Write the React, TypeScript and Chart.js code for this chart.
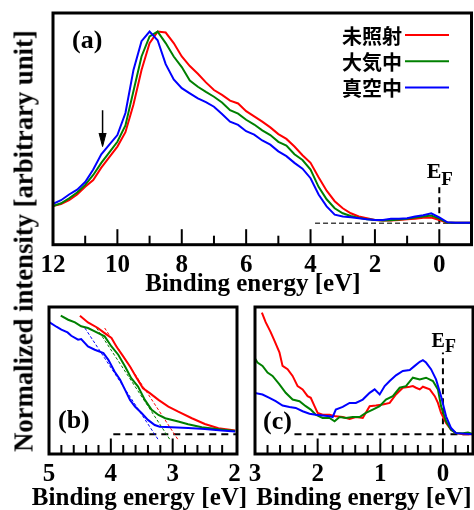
import React, { useEffect, useRef } from 'react';
import { Chart, registerables } from 'chart.js';

Chart.register(...registerables);

// ---------------- series names / colours ----------------
const seriesNames = ['未照射', '大気中', '真空中'];
const seriesColors = ['#ff0000', '#008000', '#0000ff'];
const xTitle = 'Binding energy [eV]';

// ---------------- panel (a): full valence band ----------------
const aEnergy = [12, 11.75, 11.5, 11.25, 11, 10.75, 10.5, 10.25, 10, 9.75, 9.5, 9.25, 9, 8.75, 8.5, 8.25, 8, 7.75, 7.5, 7.25, 7, 6.75, 6.5, 6.25, 6, 5.75, 5.5, 5.25, 5, 4.75, 4.5, 4.25, 4, 3.75, 3.5, 3.25, 3, 2.75, 2.5, 2.25, 2, 1.75, 1.5, 1.25, 1, 0.75, 0.5, 0.25, 0, -0.25, -0.5, -0.75, -1];
const aRed = [0.090, 0.100, 0.120, 0.150, 0.190, 0.225, 0.290, 0.345, 0.400, 0.475, 0.620, 0.800, 0.940, 1.000, 0.995, 0.940, 0.870, 0.820, 0.780, 0.735, 0.695, 0.670, 0.640, 0.625, 0.585, 0.558, 0.530, 0.500, 0.465, 0.440, 0.400, 0.355, 0.315, 0.240, 0.170, 0.115, 0.078, 0.052, 0.035, 0.026, 0.017, 0.014, 0.014, 0.017, 0.021, 0.024, 0.028, 0.030, 0.017, 0.003, 0.003, 0.003, 0.003];
const aGreen = [0.090, 0.104, 0.130, 0.160, 0.200, 0.252, 0.315, 0.370, 0.425, 0.510, 0.690, 0.870, 0.975, 1.000, 0.940, 0.870, 0.815, 0.745, 0.712, 0.685, 0.660, 0.630, 0.590, 0.572, 0.540, 0.515, 0.485, 0.460, 0.425, 0.405, 0.360, 0.330, 0.280, 0.190, 0.125, 0.078, 0.052, 0.038, 0.028, 0.021, 0.017, 0.014, 0.016, 0.019, 0.024, 0.030, 0.035, 0.040, 0.024, 0.003, 0.003, 0.003, 0.003];
const aBlue = [0.101, 0.120, 0.150, 0.175, 0.215, 0.280, 0.360, 0.410, 0.460, 0.575, 0.800, 0.950, 1.000, 0.955, 0.830, 0.750, 0.705, 0.678, 0.652, 0.632, 0.608, 0.570, 0.530, 0.513, 0.480, 0.462, 0.432, 0.410, 0.375, 0.350, 0.315, 0.285, 0.235, 0.150, 0.088, 0.045, 0.035, 0.031, 0.026, 0.021, 0.017, 0.017, 0.023, 0.023, 0.026, 0.035, 0.042, 0.052, 0.031, 0.005, 0.003, 0.003, 0.003];
const aBaseE = [3.86, -1];
const aBaseV = [0, 0];
const aFermiE = [0, 0];
const aFermiV = [0, 0.194];
const aArrowShaftE = [10.46, 10.46];
const aArrowShaftV = [0.59, 0.46];
const aArrowHeadE = [10.57, 10.46, 10.35];
const aArrowHeadV = [0.471, 0.40, 0.471];
const aTickLabels = [12, 10, 8, 6, 4, 2, 0];
const aMinorTicks = [11, 9, 7, 5, 3, 1];

// ---------------- panel (b): valence band edge ----------------
const bRedE = [4.50, 4.37, 4.21, 4.10, 3.99, 3.91, 3.80, 3.69, 3.58, 3.48, 3.37, 3.23, 3.07, 2.91, 2.69, 2.48, 2.26, 1.99];
const bRed = [0.932, 0.879, 0.835, 0.795, 0.756, 0.690, 0.612, 0.533, 0.441, 0.362, 0.323, 0.270, 0.218, 0.178, 0.126, 0.081, 0.047, 0.029];
const bGreenE = [4.81, 4.69, 4.58, 4.48, 4.37, 4.26, 4.10, 3.99, 3.88, 3.77, 3.67, 3.56, 3.45, 3.34, 3.23, 3.12, 2.91, 2.75, 2.53, 2.26, 1.99];
const bGreen = [0.932, 0.900, 0.879, 0.848, 0.835, 0.808, 0.769, 0.690, 0.625, 0.533, 0.441, 0.375, 0.270, 0.192, 0.152, 0.126, 0.100, 0.079, 0.055, 0.039, 0.026];
const bBlueE = [4.99, 4.88, 4.80, 4.70, 4.64, 4.53, 4.48, 4.37, 4.26, 4.12, 4.04, 3.94, 3.85, 3.77, 3.69, 3.61, 3.50, 3.40, 3.29, 3.21, 3.02, 2.75, 2.48, 2.21, 1.99];
const bBlue = [0.879, 0.845, 0.822, 0.800, 0.774, 0.743, 0.748, 0.690, 0.664, 0.638, 0.585, 0.493, 0.428, 0.349, 0.270, 0.218, 0.165, 0.113, 0.073, 0.060, 0.055, 0.050, 0.042, 0.029, 0.021];
const bTanRedE = [4.10, 2.91];
const bTanGreenE = [4.23, 3.04];
const bTanBlueE = [4.42, 3.23];
const bTanV = [0.835, -0.045];
const bBaseE = [3.96, 1.96];
const bBaseV = [0, 0];
const bTickLabels = [5, 4, 3, 2];
const bMajorTicks = [4, 3];
const bMinorTicks = [4.8, 4.6, 4.4, 4.2, 3.8, 3.6, 3.4, 3.2, 2.8, 2.6, 2.4, 2.2];

// ---------------- panel (c): near Fermi level ----------------
const cRedE = [2.89, 2.83, 2.75, 2.69, 2.61, 2.56, 2.48, 2.40, 2.32, 2.24, 2.16, 2.11, 2.05, 2.00, 1.92, 1.81, 1.71, 1.60, 1.49, 1.39, 1.28, 1.17, 1.07, 0.96, 0.85, 0.75, 0.64, 0.53, 0.48, 0.43, 0.37, 0.32, 0.21, 0.13, 0.08, 0.03, -0.05, -0.13, -0.21, -0.32, -0.48];
const cRed = [0.955, 0.881, 0.802, 0.735, 0.643, 0.537, 0.511, 0.458, 0.378, 0.352, 0.299, 0.286, 0.220, 0.167, 0.153, 0.153, 0.140, 0.135, 0.119, 0.135, 0.127, 0.220, 0.225, 0.233, 0.246, 0.312, 0.365, 0.373, 0.378, 0.365, 0.352, 0.373, 0.352, 0.299, 0.246, 0.167, 0.087, 0.034, 0.008, 0, 0];
const cGreenE = [3.01, 2.96, 2.88, 2.80, 2.72, 2.61, 2.51, 2.40, 2.29, 2.19, 2.11, 2.03, 1.92, 1.81, 1.73, 1.65, 1.55, 1.44, 1.33, 1.23, 1.12, 1.01, 0.91, 0.80, 0.69, 0.59, 0.48, 0.37, 0.27, 0.16, 0.08, 0.03, -0.05, -0.13, -0.21, -0.32, -0.40, -0.48];
const cGreen = [0.603, 0.563, 0.537, 0.484, 0.458, 0.392, 0.325, 0.272, 0.259, 0.220, 0.193, 0.153, 0.127, 0.127, 0.101, 0.135, 0.127, 0.135, 0.135, 0.167, 0.193, 0.220, 0.272, 0.299, 0.365, 0.378, 0.444, 0.431, 0.444, 0.418, 0.352, 0.220, 0.101, 0.034, 0.008, 0.008, 0.013, 0];
const cBlueE = [3.01, 2.88, 2.77, 2.67, 2.56, 2.45, 2.35, 2.24, 2.13, 2.03, 1.92, 1.81, 1.76, 1.71, 1.60, 1.49, 1.39, 1.28, 1.17, 1.09, 1.01, 0.93, 0.85, 0.75, 0.64, 0.53, 0.45, 0.37, 0.32, 0.27, 0.19, 0.11, 0.03, -0.05, -0.13, -0.21, -0.48];
const cBlue = [0.325, 0.312, 0.286, 0.259, 0.225, 0.214, 0.206, 0.180, 0.161, 0.153, 0.146, 0.140, 0.135, 0.193, 0.214, 0.246, 0.246, 0.272, 0.325, 0.352, 0.312, 0.378, 0.418, 0.463, 0.497, 0.505, 0.537, 0.569, 0.582, 0.563, 0.511, 0.431, 0.299, 0.140, 0.048, 0.008, 0];
const cBaseE = [2.37, -0.48];
const cBaseV = [0, 0];
const cFermiE = [0, 0];
const cFermiV = [0, 0.643];
const cTickLabels = [3, 2, 1, 0];
const cMajorTicks = [2, 1, 0];
const cMinorTicks = [2.8, 2.6, 2.4, 2.2, 1.8, 1.6, 1.4, 1.2, 0.8, 0.6, 0.4, 0.2, -0.2, -0.4];

// ---------------- helpers ----------------
const SERIF = "'Liberation Serif', 'Times New Roman', serif";
const AXIS_FONT = { family: SERIF, size: 25, weight: 'bold' };

const pts = (xs: number[], ys: number[]) => xs.map((x, i) => ({ x, y: ys[i] }));

const curve = (xs: number[], ys: number[], color: string, order: number, extra: any = {}) => ({
  data: pts(xs, ys),
  borderColor: color,
  backgroundColor: color,
  borderWidth: 2,
  pointRadius: 0,
  tension: 0,
  fill: false,
  order,
  ...extra,
});

type DecoText = {
  text: string; font: string; x?: number; xv?: number; dx?: number; y: number;
  align?: CanvasTextAlign; baseline?: CanvasTextBaseline;
};
type Deco = { major: number[]; minor: number[]; texts: DecoText[]; legend?: boolean };

const makeDeco = (d: Deco) => ({
  id: 'panelDeco',
  afterDatasetsDraw(chart: any) {
    const { ctx, chartArea: ca } = chart;
    const xs = chart.scales.x;
    ctx.save();
    ctx.setLineDash([]);
    ctx.strokeStyle = '#000';
    ctx.lineWidth = 2;
    const tick = (v: number, len: number) => {
      const px = xs.getPixelForValue(v);
      ctx.beginPath();
      ctx.moveTo(px, ca.bottom);
      ctx.lineTo(px, ca.bottom - len);
      ctx.stroke();
    };
    d.minor.forEach((v) => tick(v, 9));
    d.major.forEach((v) => tick(v, 15.5));
    ctx.lineWidth = 3;
    ctx.strokeRect(ca.left, ca.top, ca.right - ca.left, ca.bottom - ca.top);
    ctx.fillStyle = '#000';
    d.texts.forEach((t) => {
      ctx.font = t.font;
      ctx.textAlign = t.align ?? 'left';
      ctx.textBaseline = t.baseline ?? 'alphabetic';
      const x = t.xv !== undefined ? xs.getPixelForValue(t.xv) + (t.dx ?? 0) : (t.x as number);
      ctx.fillText(t.text, x, t.y);
    });
    if (d.legend) {
      ctx.font = "bold 20px 'Noto Sans CJK JP', sans-serif";
      ctx.textAlign = 'right';
      ctx.textBaseline = 'middle';
      seriesNames.forEach((name, i) => {
        const y = 36 + i * 26.2;
        ctx.fillStyle = '#000';
        ctx.fillText(name, 402, y);
        ctx.strokeStyle = seriesColors[i];
        ctx.lineWidth = 2;
        ctx.beginPath();
        ctx.moveTo(405, y - 1);
        ctx.lineTo(449, y - 1);
        ctx.stroke();
      });
    }
    ctx.restore();
  },
});

const makeOptions = (p: {
  xmin: number; xmax: number; ymin: number; ymax: number; ticks: number[];
  pad: { left: number; right: number; top: number }; xh: number; title: string; showTitle: boolean;
}) => ({
  animation: false,
  responsive: false,
  maintainAspectRatio: false,
  devicePixelRatio: 1,
  events: [],
  layout: { padding: { left: p.pad.left, right: p.pad.right, top: p.pad.top, bottom: 0 } },
  plugins: { legend: { display: false }, tooltip: { enabled: false }, title: { display: false } },
  scales: {
    x: {
      type: 'linear',
      reverse: true,
      min: p.xmin,
      max: p.xmax,
      afterBuildTicks: (s: any) => { s.ticks = p.ticks.map((v) => ({ value: v })); },
      afterFit: (s: any) => { s.height = p.xh; },
      grid: { display: false, drawTicks: false },
      border: { display: false },
      ticks: {
        autoSkip: false,
        maxRotation: 0,
        padding: 5.5,
        color: '#000',
        font: AXIS_FONT,
      },
      title: {
        display: p.showTitle,
        text: p.title,
        color: '#000',
        font: AXIS_FONT,
        padding: { top: 0, bottom: 0 },
      },
    },
    y: { display: false, min: p.ymin, max: p.ymax },
  },
});

const configA = (): any => ({
  type: 'line',
  data: {
    datasets: [
      curve(aEnergy, aRed, seriesColors[0], 2),
      curve(aEnergy, aGreen, seriesColors[1], 1),
      curve(aEnergy, aBlue, seriesColors[2], 0),
      curve(aBaseE, aBaseV, '#444', 5, { borderWidth: 1.5, borderDash: [5, 3] }),
      curve(aFermiE, aFermiV, '#000', 5, { borderWidth: 2, borderDash: [6, 4] }),
      curve(aArrowShaftE, aArrowShaftV, '#000', 4, { borderWidth: 1.5 }),
      curve(aArrowHeadE, aArrowHeadV, '#000', 4, { borderWidth: 1, fill: 'shape', backgroundColor: '#000' }),
    ],
  },
  options: makeOptions({
    xmin: -1, xmax: 12, ymin: -0.112, ymax: 1.097, ticks: aTickLabels,
    pad: { left: 53, right: 2.5, top: 13 }, xh: 55.3,
    title: xTitle + '\u00a0\u00a0\u00a0', showTitle: true,
  }),
  plugins: [makeDeco({
    major: aTickLabels, minor: aMinorTicks, legend: true,
    texts: [
      { text: '(a)', font: `bold 26px ${SERIF}`, x: 72, y: 48 },
      { text: 'E', font: `bold 22px ${SERIF}`, xv: 0, dx: -12.5, y: 178 },
      { text: 'F', font: `bold 19px ${SERIF}`, xv: 0, dx: 2, y: 185 },
    ],
  })],
});

const configB = (): any => ({
  type: 'line',
  data: {
    datasets: [
      curve(bRedE, bRed, seriesColors[0], 2),
      curve(bGreenE, bGreen, seriesColors[1], 1),
      curve(bBlueE, bBlue, seriesColors[2], 0),
      curve(bTanRedE, bTanV, seriesColors[0], 4, { borderWidth: 1, borderDash: [3, 2] }),
      curve(bTanGreenE, bTanV, seriesColors[1], 4, { borderWidth: 1, borderDash: [3, 2] }),
      curve(bTanBlueE, bTanV, seriesColors[2], 4, { borderWidth: 1, borderDash: [3, 2] }),
      curve(bBaseE, bBaseV, '#000', 5, { borderWidth: 2, borderDash: [7, 5] }),
    ],
  },
  options: makeOptions({
    xmin: 1.96, xmax: 5, ymin: -0.155, ymax: 1.0, ticks: bTickLabels,
    pad: { left: 49, right: 25, top: 7 }, xh: 60,
    title: xTitle, showTitle: false,
  }),
  plugins: [makeDeco({
    major: bMajorTicks, minor: bMinorTicks,
    texts: [
      { text: '(b)', font: `bold 26px ${SERIF}`, x: 58, y: 128 },
      { text: xTitle, font: `bold 25px ${SERIF}`, x: 139.5, y: 199, align: 'center', baseline: 'middle' },
    ],
  })],
});

const configC = (): any => ({
  type: 'line',
  data: {
    datasets: [
      curve(cRedE, cRed, seriesColors[0], 2),
      curve(cGreenE, cGreen, seriesColors[1], 1),
      curve(cBlueE, cBlue, seriesColors[2], 0),
      curve(cBaseE, cBaseV, '#000', 5, { borderWidth: 2, borderDash: [7, 5] }),
      curve(cFermiE, cFermiV, '#000', 5, { borderWidth: 2, borderDash: [6, 4] }),
    ],
  },
  options: makeOptions({
    xmin: -0.48, xmax: 3.0, ymin: -0.156, ymax: 1.0, ticks: cTickLabels,
    pad: { left: 15, right: 1, top: 7 }, xh: 60,
    title: xTitle, showTitle: true,
  }),
  plugins: [makeDeco({
    major: cMajorTicks, minor: cMinorTicks,
    texts: [
      { text: '(c)', font: `bold 26px ${SERIF}`, x: 23, y: 129 },
      { text: 'E', font: `bold 20px ${SERIF}`, xv: 0, dx: -11.5, y: 47 },
      { text: 'F', font: `bold 18px ${SERIF}`, xv: 0, dx: 2, y: 52 },
    ],
  })],
});

export default function App() {
  const refA = useRef<HTMLCanvasElement>(null);
  const refB = useRef<HTMLCanvasElement>(null);
  const refC = useRef<HTMLCanvasElement>(null);

  useEffect(() => {
    const charts = [
      new Chart(refA.current as HTMLCanvasElement, configA()),
      new Chart(refB.current as HTMLCanvasElement, configB()),
      new Chart(refC.current as HTMLCanvasElement, configC()),
    ];
    return () => charts.forEach((c) => c.destroy());
  }, []);

  return (
    <div style={{ position: 'fixed', left: 0, top: 0, width: 474, height: 510, background: '#fff', overflow: 'hidden' }}>
      <canvas ref={refA} width={474} height={300} style={{ position: 'absolute', left: 0, top: 0, width: 474, height: 300 }} />
      <canvas ref={refB} width={262} height={214} style={{ position: 'absolute', left: 0, top: 300, width: 262, height: 214 }} />
      <canvas ref={refC} width={234} height={214} style={{ position: 'absolute', left: 240, top: 300, width: 234, height: 214 }} />
      <div
        style={{
          position: 'absolute',
          left: 24,
          top: 241,
          transform: 'translate(-50%, -50%) rotate(-90deg)',
          whiteSpace: 'nowrap',
          fontFamily: SERIF,
          fontWeight: 'bold',
          fontSize: '26.7px',
          lineHeight: '27px',
          color: '#000',
        }}
      >
        Normalized intensity [arbitrary unit]
      </div>
    </div>
  );
}
